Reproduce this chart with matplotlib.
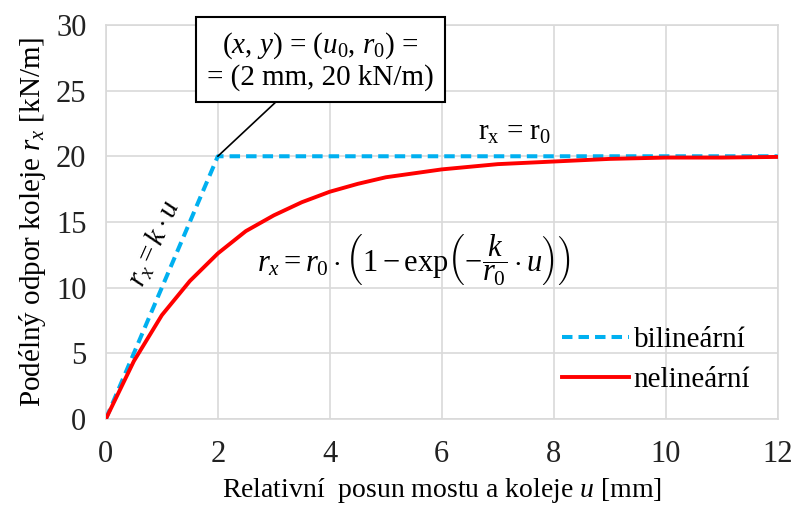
import matplotlib
matplotlib.use("Agg")
import matplotlib.pyplot as plt

plt.rcParams['font.family'] = ['Liberation Serif', 'DejaVu Serif']
plt.rcParams['mathtext.fontset'] = 'custom'
plt.rcParams['mathtext.rm'] = 'Liberation Serif'
plt.rcParams['mathtext.it'] = 'Liberation Serif:italic'
plt.rcParams['mathtext.bf'] = 'Liberation Serif:bold'

# ===== data =====
u_bilin = [0, 2, 12]
r_bilin = [0, 20, 20]

u_nelin = [0, 0.5, 1, 1.5, 2, 2.5, 3, 3.5, 4, 4.5, 5, 5.5, 6, 7, 8, 9, 10, 11, 12]
r_nelin = [0, 4.4, 7.9, 10.5, 12.6, 14.3, 15.5, 16.5, 17.3, 17.9, 18.4, 18.7,
           19.0, 19.4, 19.6, 19.8, 19.9, 19.9, 19.95]

x_ticks = [0, 2, 4, 6, 8, 10, 12]
y_ticks = [0, 5, 10, 15, 20, 25, 30]

# ===== plot =====
fig = plt.figure(figsize=(7.96, 5.09), dpi=100)
ax = fig.add_axes([0.133, 0.177, 0.844, 0.774])

ax.plot(u_bilin, r_bilin, color='#00B0F0', lw=2.9, ls=(0, (2.6, 1.5)),
        label='bilineární', zorder=3)
ax.plot(u_nelin, r_nelin, color='#FF0000', lw=2.8, label='nelineární', zorder=4)

ax.set_xlim(0, 12)
ax.set_ylim(0, 30)
ax.set_xticks(x_ticks)
ax.set_yticks(y_ticks)
ax.tick_params(length=0, labelsize=22, colors='#222222')
ax.tick_params(axis='x', pad=15)
ax.tick_params(axis='y', pad=14)
ax.grid(True, color='#d9d9d9', lw=1.2)
ax.set_axisbelow(True)
for s in ax.spines.values():
    s.set_color('#d9d9d9')
    s.set_linewidth(1.2)

ax.set_xlabel('Relativní  posun mostu a koleje $u$ [mm]', fontsize=20, labelpad=5)
ax.set_ylabel('Podélný odpor koleje $r_x$ [kN/m]', fontsize=21, labelpad=6)

# annotations
ax.annotate('$(x$, $y)$ = $(u_0$, $r_0)$ =\n= (2 mm, 20 kN/m)',
            xy=(2, 20), xytext=(3.83, 27.3), fontsize=21, ha='center', va='center',
            linespacing=1.15,
            bbox=dict(boxstyle='square,pad=0.38', fc='white', ec='black', lw=1.5),
            arrowprops=dict(arrowstyle='-', color='black', lw=1.2,
                            shrinkA=0, shrinkB=0))

ax.text(7.3, 21.8, r'r$_\mathrm{x}$ = r$_0$', fontsize=21, ha='center', va='center')

ax.text(0.87, 13.3, r'$r_x = k\cdot u$', fontsize=21, ha='center', va='center',
        rotation=66)

ax.text(5.5, 12.1,
        r'$r_x = r_0\cdot\left(1 - \mathrm{exp}\left(-\dfrac{k}{r_0}\cdot u\right)\right)$',
        fontsize=22, ha='center', va='center')

ax.legend(loc='upper left', bbox_to_anchor=(0.64, 0.3), frameon=False,
          fontsize=21, handlelength=2.3, handletextpad=0.15, labelspacing=0.45)

plt.savefig('out.png', dpi=100)
